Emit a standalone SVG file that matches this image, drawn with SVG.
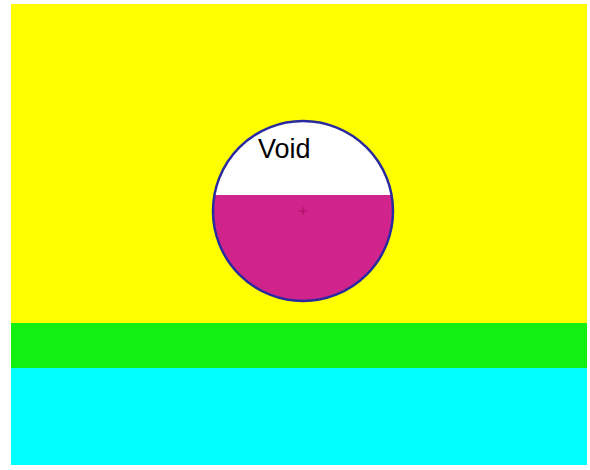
<svg xmlns="http://www.w3.org/2000/svg" width="590" height="470" viewBox="0 0 590 470">
<style>
.lbl{font-family:"Liberation Sans",Arial,sans-serif;font-size:27px;fill:#000}
</style>
<defs>
<clipPath id="c"><circle cx="303" cy="211" r="90"/></clipPath>
</defs>
<rect width="590" height="470" fill="#fff"/>
<g id="layers">
<rect x="11" y="4" width="576" height="319" fill="#ffff00"/>
<rect x="11" y="323" width="576" height="45" fill="#11f011"/>
<rect x="11" y="368" width="576" height="97" fill="#00ffff"/>
</g>
<g id="void">
<circle cx="303" cy="211" r="90" fill="#fff"/>
<rect x="200" y="195" width="210" height="120" fill="#d0248c" clip-path="url(#c)"/>
<circle cx="303" cy="211" r="90" fill="none" stroke="#2a2aa0" stroke-width="2.5"/>
<path d="M299 211h8M303 207v8" stroke="#a01060" stroke-width="1"/>
<text class="lbl" x="258" y="158">Void</text>
</g>
</svg>
